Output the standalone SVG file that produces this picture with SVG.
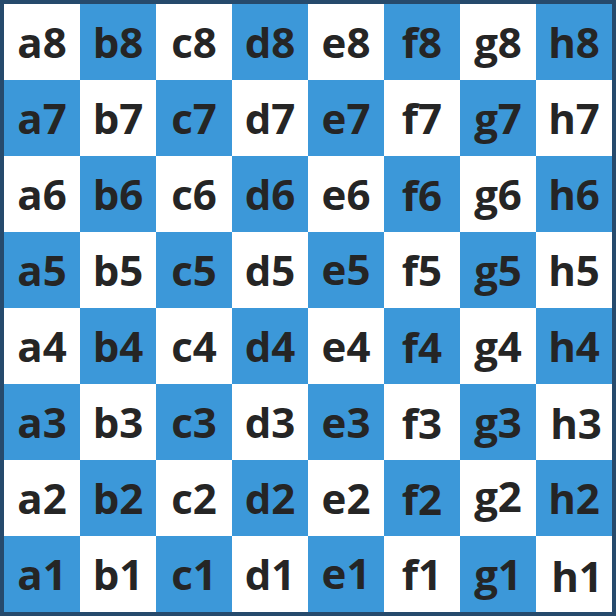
<svg xmlns="http://www.w3.org/2000/svg" width="616" height="616" viewBox="0 0 616 616">
<style>
.b{fill:#3c98d9}
.w{fill:#ffffff}
text{font-family:"Open Sans","Noto Sans","Liberation Sans",sans-serif;font-weight:700;font-size:42px;fill:#252525;text-anchor:middle}
</style>
<rect x="0" y="0" width="616" height="616" fill="#264a6c"/>
<g id="board">
<g id="row8">
<g id="a8"><rect class="w" x="4" y="4" width="76" height="76"/><text x="42" y="58">a8</text></g>
<g id="b8"><rect class="b" x="80" y="4" width="76" height="76"/><text x="118" y="58">b8</text></g>
<g id="c8"><rect class="w" x="156" y="4" width="76" height="76"/><text x="194" y="58">c8</text></g>
<g id="d8"><rect class="b" x="232" y="4" width="76" height="76"/><text x="270" y="58">d8</text></g>
<g id="e8"><rect class="w" x="308" y="4" width="76" height="76"/><text x="346" y="58">e8</text></g>
<g id="f8"><rect class="b" x="384" y="4" width="76" height="76"/><text x="422" y="58">f8</text></g>
<g id="g8"><rect class="w" x="460" y="4" width="76" height="76"/><text x="498" y="58">g8</text></g>
<g id="h8"><rect class="b" x="536" y="4" width="76" height="76"/><text x="574" y="58">h8</text></g>
</g>
<g id="row7">
<g id="a7"><rect class="b" x="4" y="80" width="76" height="76"/><text x="42" y="134">a7</text></g>
<g id="b7"><rect class="w" x="80" y="80" width="76" height="76"/><text x="118" y="134">b7</text></g>
<g id="c7"><rect class="b" x="156" y="80" width="76" height="76"/><text x="194" y="134">c7</text></g>
<g id="d7"><rect class="w" x="232" y="80" width="76" height="76"/><text x="270" y="134">d7</text></g>
<g id="e7"><rect class="b" x="308" y="80" width="76" height="76"/><text x="346" y="134">e7</text></g>
<g id="f7"><rect class="w" x="384" y="80" width="76" height="76"/><text x="422" y="134">f7</text></g>
<g id="g7"><rect class="b" x="460" y="80" width="76" height="76"/><text x="498" y="134">g7</text></g>
<g id="h7"><rect class="w" x="536" y="80" width="76" height="76"/><text x="574" y="134">h7</text></g>
</g>
<g id="row6">
<g id="a6"><rect class="w" x="4" y="156" width="76" height="76"/><text x="42" y="210">a6</text></g>
<g id="b6"><rect class="b" x="80" y="156" width="76" height="76"/><text x="118" y="210">b6</text></g>
<g id="c6"><rect class="w" x="156" y="156" width="76" height="76"/><text x="194" y="210">c6</text></g>
<g id="d6"><rect class="b" x="232" y="156" width="76" height="76"/><text x="270" y="210">d6</text></g>
<g id="e6"><rect class="w" x="308" y="156" width="76" height="76"/><text x="346" y="210">e6</text></g>
<g id="f6"><rect class="b" x="384" y="156" width="76" height="76"/><text x="422" y="211">f6</text></g>
<g id="g6"><rect class="w" x="460" y="156" width="76" height="76"/><text x="498" y="210">g6</text></g>
<g id="h6"><rect class="b" x="536" y="156" width="76" height="76"/><text x="574" y="210">h6</text></g>
</g>
<g id="row5">
<g id="a5"><rect class="b" x="4" y="232" width="76" height="76"/><text x="42" y="286">a5</text></g>
<g id="b5"><rect class="w" x="80" y="232" width="76" height="76"/><text x="118" y="286">b5</text></g>
<g id="c5"><rect class="b" x="156" y="232" width="76" height="76"/><text x="194" y="286">c5</text></g>
<g id="d5"><rect class="w" x="232" y="232" width="76" height="76"/><text x="270" y="286">d5</text></g>
<g id="e5"><rect class="b" x="308" y="232" width="76" height="76"/><text x="346" y="285">e5</text></g>
<g id="f5"><rect class="w" x="384" y="232" width="76" height="76"/><text x="422" y="286">f5</text></g>
<g id="g5"><rect class="b" x="460" y="232" width="76" height="76"/><text x="498" y="286">g5</text></g>
<g id="h5"><rect class="w" x="536" y="232" width="76" height="76"/><text x="574" y="286">h5</text></g>
</g>
<g id="row4">
<g id="a4"><rect class="w" x="4" y="308" width="76" height="76"/><text x="42" y="362">a4</text></g>
<g id="b4"><rect class="b" x="80" y="308" width="76" height="76"/><text x="118" y="362">b4</text></g>
<g id="c4"><rect class="w" x="156" y="308" width="76" height="76"/><text x="194" y="362">c4</text></g>
<g id="d4"><rect class="b" x="232" y="308" width="76" height="76"/><text x="270" y="362">d4</text></g>
<g id="e4"><rect class="w" x="308" y="308" width="76" height="76"/><text x="346" y="362">e4</text></g>
<g id="f4"><rect class="b" x="384" y="308" width="76" height="76"/><text x="422" y="363">f4</text></g>
<g id="g4"><rect class="w" x="460" y="308" width="76" height="76"/><text x="498" y="362">g4</text></g>
<g id="h4"><rect class="b" x="536" y="308" width="76" height="76"/><text x="574" y="362">h4</text></g>
</g>
<g id="row3">
<g id="a3"><rect class="b" x="4" y="384" width="76" height="76"/><text x="42" y="438">a3</text></g>
<g id="b3"><rect class="w" x="80" y="384" width="76" height="76"/><text x="118" y="438">b3</text></g>
<g id="c3"><rect class="b" x="156" y="384" width="76" height="76"/><text x="194" y="438">c3</text></g>
<g id="d3"><rect class="w" x="232" y="384" width="76" height="76"/><text x="270" y="438">d3</text></g>
<g id="e3"><rect class="b" x="308" y="384" width="76" height="76"/><text x="346" y="438">e3</text></g>
<g id="f3"><rect class="w" x="384" y="384" width="76" height="76"/><text x="422" y="439">f3</text></g>
<g id="g3"><rect class="b" x="460" y="384" width="76" height="76"/><text x="498" y="438">g3</text></g>
<g id="h3"><rect class="w" x="536" y="384" width="76" height="76"/><text x="576" y="439">h3</text></g>
</g>
<g id="row2">
<g id="a2"><rect class="w" x="4" y="460" width="76" height="76"/><text x="42" y="514">a2</text></g>
<g id="b2"><rect class="b" x="80" y="460" width="76" height="76"/><text x="118" y="514">b2</text></g>
<g id="c2"><rect class="w" x="156" y="460" width="76" height="76"/><text x="194" y="514">c2</text></g>
<g id="d2"><rect class="b" x="232" y="460" width="76" height="76"/><text x="270" y="514">d2</text></g>
<g id="e2"><rect class="w" x="308" y="460" width="76" height="76"/><text x="346" y="514">e2</text></g>
<g id="f2"><rect class="b" x="384" y="460" width="76" height="76"/><text x="422" y="515">f2</text></g>
<g id="g2"><rect class="w" x="460" y="460" width="76" height="76"/><text x="498" y="512">g2</text></g>
<g id="h2"><rect class="b" x="536" y="460" width="76" height="76"/><text x="574" y="514">h2</text></g>
</g>
<g id="row1">
<g id="a1"><rect class="b" x="4" y="536" width="76" height="76"/><text x="42" y="590">a1</text></g>
<g id="b1"><rect class="w" x="80" y="536" width="76" height="76"/><text x="118" y="590">b1</text></g>
<g id="c1"><rect class="b" x="156" y="536" width="76" height="76"/><text x="194" y="590">c1</text></g>
<g id="d1"><rect class="w" x="232" y="536" width="76" height="76"/><text x="270" y="590">d1</text></g>
<g id="e1"><rect class="b" x="308" y="536" width="76" height="76"/><text x="346" y="589">e1</text></g>
<g id="f1"><rect class="w" x="384" y="536" width="76" height="76"/><text x="422" y="590">f1</text></g>
<g id="g1"><rect class="b" x="460" y="536" width="76" height="76"/><text x="498" y="590">g1</text></g>
<g id="h1"><rect class="w" x="536" y="536" width="76" height="76"/><text x="577" y="592">h1</text></g>
</g>
</g>
</svg>
